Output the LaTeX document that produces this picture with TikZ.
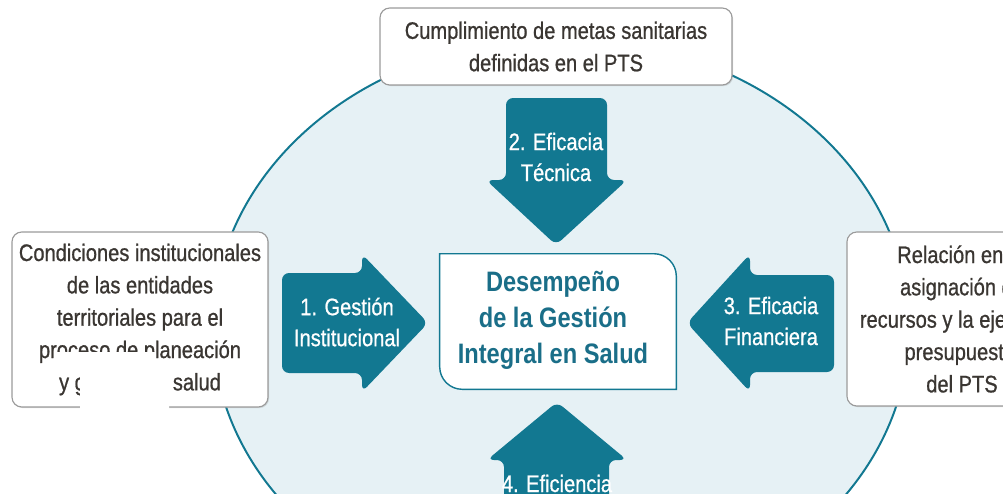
\documentclass[tikz,border=0pt]{standalone}
\usepackage{fontspec}
\setmainfont{Liberation Sans}[FakeStretch=0.84]
\newfontfamily\pdmedium{Liberation Sans}[FakeStretch=0.84, FakeBold=0.8]
\usetikzlibrary{shadows}

\definecolor{pdteal}{RGB}{18,120,145}
\definecolor{pdhubtext}{RGB}{26,110,136}
\definecolor{pdbg}{RGB}{230,241,245}
\definecolor{pdgray}{RGB}{58,54,50}
\definecolor{pdframe}{RGB}{155,155,155}

\tikzset{
  infobox/.style={draw=pdframe, line width=0.8pt, fill=white, rounded corners=7pt,
    align=center, text=pdgray, font=\pdmedium\fontsize{17pt}{23pt}\selectfont,
    drop shadow={shadow xshift=0.8pt, shadow yshift=-0.8pt, opacity=0.25}},
  arrowfill/.style={fill=pdteal, rounded corners=5pt},
  arrowtext/.style={text=white, align=center, font=\pdmedium\fontsize{17pt}{22pt}\selectfont},
  hubtext/.style={text=pdhubtext, align=center, font=\bfseries\fontsize{20pt}{25.5pt}\selectfont},
}

\begin{document}
\begin{tikzpicture}[x=0.025cm, y=-0.025cm]
        \useasboundingbox (0,0) rectangle (1003,493);
        \clip (0,0) rectangle (1003,493);

        % Background ellipse
        \filldraw[fill=pdbg, draw=pdteal, line width=1.4pt] (561,328) ellipse [x radius=348, y radius=290];

        % Outer boxes
        \node[infobox, minimum width=8.8cm, minimum height=1.925cm] (metas) at (556,46.5)
            {Cumplimiento de metas sanitarias\\definidas en el PTS};
        \node[infobox, minimum width=6.4cm, minimum height=4.375cm] (condiciones) at (140,319.5)
            {Condiciones institucionales\\de las entidades\\territoriales para el\\proceso de planeación\\y gestión en salud};
        \node[infobox, minimum width=5.75cm, minimum height=4.35cm] (relacion) at (962,319)
            {Relación entre\\asignación de\\recursos y la ejecución\\presupuestal\\del PTS};

        % Arrows
        \fill[arrowfill] (282,273) -- (362,273) -- (362,254) -- (428,323) -- (362,392) -- (362,373) -- (282,373) -- cycle;
        \node[arrowtext] (gestion) at (347,322) {1. Gestión\\Institucional};

        \fill[arrowfill] (506,98) -- (607,98) -- (607,180) -- (627,180) -- (556,245) -- (486,180) -- (506,180) -- cycle;
        \node[arrowtext] (tecnica) at (556,157) {2. Eficacia\\Técnica};

        \fill[arrowfill] (834,275) -- (750,275) -- (750,254) -- (687,323) -- (750,392) -- (750,372) -- (834,372) -- cycle;
        \node[arrowtext] (financiera) at (771,321) {3. Eficacia\\Financiera};

        \fill[arrowfill] (504,530) -- (504,460) -- (487,460) -- (557,402) -- (627,460) -- (609,460) -- (609,530) -- cycle;
        \node[arrowtext, anchor=base] (eficiencia) at (557,492) {4. Eficiencia};

        % Central box
        \node[minimum width=5.9cm, minimum height=3.375cm] (hub) at (558,321.5) {};
        \filldraw[fill=white, draw=pdteal, line width=1pt] (hub.north west) -- ([xshift=-16pt]hub.north east)
            arc[start angle=90, end angle=0, radius=16pt] -- (hub.south east) -- ([xshift=16pt]hub.south west)
            arc[start angle=270, end angle=180, radius=16pt] -- cycle;
        \node[hubtext] (desempeno) at (553,320) {Desempeño\\de la Gestión\\Integral en Salud};

        % White patch over the left box
        \fill[white] (57,352) -- (155,352) -- (155,368) -- (169,368) -- (169,412) -- (80,412) -- (80,368) -- (57,368) -- cycle;
    \end{tikzpicture}
\end{document}
